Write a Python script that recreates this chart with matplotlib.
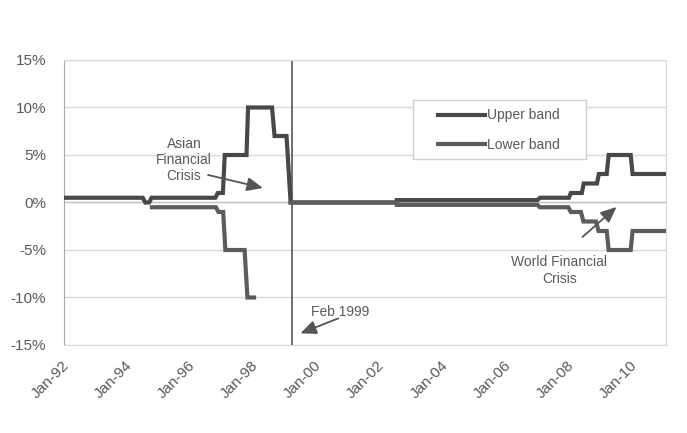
"""Exchange rate intervention band (upper / lower) with crisis annotations."""

import numpy as np
import matplotlib
matplotlib.use("Agg")
import matplotlib.pyplot as plt
from matplotlib.patches import Rectangle

plt.rcParams["font.family"] = ["Liberation Sans", "DejaVu Sans"]

# ---- data (decimal years, band width in %) ----
upper_t = [1991.9, 1994.40, 1994.48, 1994.60, 1994.68, 1996.70, 1996.78, 1996.94,
           1997.00, 1997.69, 1997.74, 1998.50, 1998.58, 1998.96, 1999.09, 2002.46,
           2002.46, 2006.92, 2007.00, 2007.92, 2007.98, 2008.33, 2008.39, 2008.81,
           2008.87, 2009.12, 2009.18, 2009.88, 2009.94, 2011.0]
upper_v = [0.5, 0.5, 0.0, 0.0, 0.5, 0.5, 1.0, 1.0,
           5.0, 5.0, 10.0, 10.0, 7.0, 7.0, 0.0, 0.0,
           0.25, 0.25, 0.5, 0.5, 1.0, 1.0, 2.0, 2.0,
           3.0, 3.0, 5.0, 5.0, 3.0, 3.0]

lower_t = [1994.69, 1996.72, 1996.80, 1996.95, 1997.02, 1997.63, 1997.72, 1997.93,
           np.nan, 1999.09, 2002.46, 2002.46, 2006.92, 2007.00, 2007.90, 2007.98,
           2008.30, 2008.38, 2008.78, 2008.86, 2009.12, 2009.18, 2009.88, 2009.94,
           2011.0]
lower_v = [-0.5, -0.5, -1.0, -1.0, -5.0, -5.0, -10.0, -10.0,
           np.nan, 0.0, 0.0, -0.25, -0.25, -0.5, -0.5, -1.0,
           -1.0, -2.0, -2.0, -3.0, -3.0, -5.0, -5.0, -3.0,
           -3.0]

x_ticks = list(range(1992, 2011, 2))
x_labels = [f"Jan-{y % 100:02d}" for y in x_ticks]
y_ticks = [-15, -10, -5, 0, 5, 10, 15]
feb_1999 = 1999.12

TEXT = "#5a5a5a"
GRID = "#d9d9d9"

fig = plt.figure(figsize=(6.87, 4.33), dpi=100)
ax = fig.add_axes([64 / 687, 1 - 345 / 433, 602 / 687, 285 / 433])

ax.set_xlim(1991.9, 2011.0)
ax.set_ylim(-15, 15)
ax.set_yticks(y_ticks)
ax.set_yticklabels([f"{v}%" for v in y_ticks])
ax.set_xticks(x_ticks)
ax.set_xticklabels(x_labels, rotation=45, ha="right", va="center",
                   rotation_mode="anchor")
ax.tick_params(axis="both", length=0, labelsize=11, labelcolor=TEXT)
ax.tick_params(axis="y", pad=13)
ax.tick_params(axis="x", pad=13)

ax.grid(axis="y", color=GRID, lw=1)
ax.set_axisbelow(True)
for side in ["top", "right", "bottom"]:
    ax.spines[side].set_color(GRID)
ax.spines["left"].set_color("#a8a8a8")
ax.axhline(0, color="#c4c4c4", lw=1, zorder=1)

l_up, = ax.plot(upper_t, upper_v, color="#484848", lw=3, solid_joinstyle="miter",
                label="Upper band", zorder=3)
l_lo, = ax.plot(lower_t, lower_v, color="#5c5c5c", lw=3, solid_joinstyle="miter",
                label="Lower band", zorder=3)

ax.axvline(feb_1999, color="#555555", lw=1.2, zorder=2)

arrow = dict(arrowstyle="-|>,head_length=0.8,head_width=0.35", color="#555555",
             lw=1.3, mutation_scale=12, shrinkA=0, shrinkB=0)
ax.text(1995.71, 4.5, "Asian\nFinancial\nCrisis", ha="center", va="center",
        fontsize=10, color=TEXT)
ax.annotate("", xy=(1998.21, 1.53), xytext=(1996.47, 2.9), arrowprops=arrow)
ax.text(1999.73, -11.5, "Feb 1999", ha="left", va="center", fontsize=10, color=TEXT)
ax.annotate("", xy=(1999.40, -13.77), xytext=(2000.60, -12.2), arrowprops=arrow)
ax.text(2007.62, -7.16, "World Financial\nCrisis", ha="center", va="center",
        fontsize=10, color=TEXT)
ax.annotate("", xy=(2009.43, -0.47), xytext=(2008.35, -3.63), arrowprops=arrow)

# legend box drawn separately so the inner padding can match
ax.add_patch(Rectangle((0.5797, 0.6526), 0.2873, 0.2070, transform=ax.transAxes,
                       fill=True, facecolor="white", edgecolor="#d0d0d0", lw=1,
                       zorder=4))
leg = ax.legend(handles=[l_up, l_lo], loc="upper left",
                bbox_to_anchor=(0.621, 0.83), frameon=False, borderpad=0,
                fontsize=10, handlelength=3.4, handletextpad=0.15,
                labelspacing=1.1, borderaxespad=0)
leg.set_zorder(5)
for t in leg.get_texts():
    t.set_color(TEXT)

fig.savefig("out.png", dpi=100, facecolor="white")
